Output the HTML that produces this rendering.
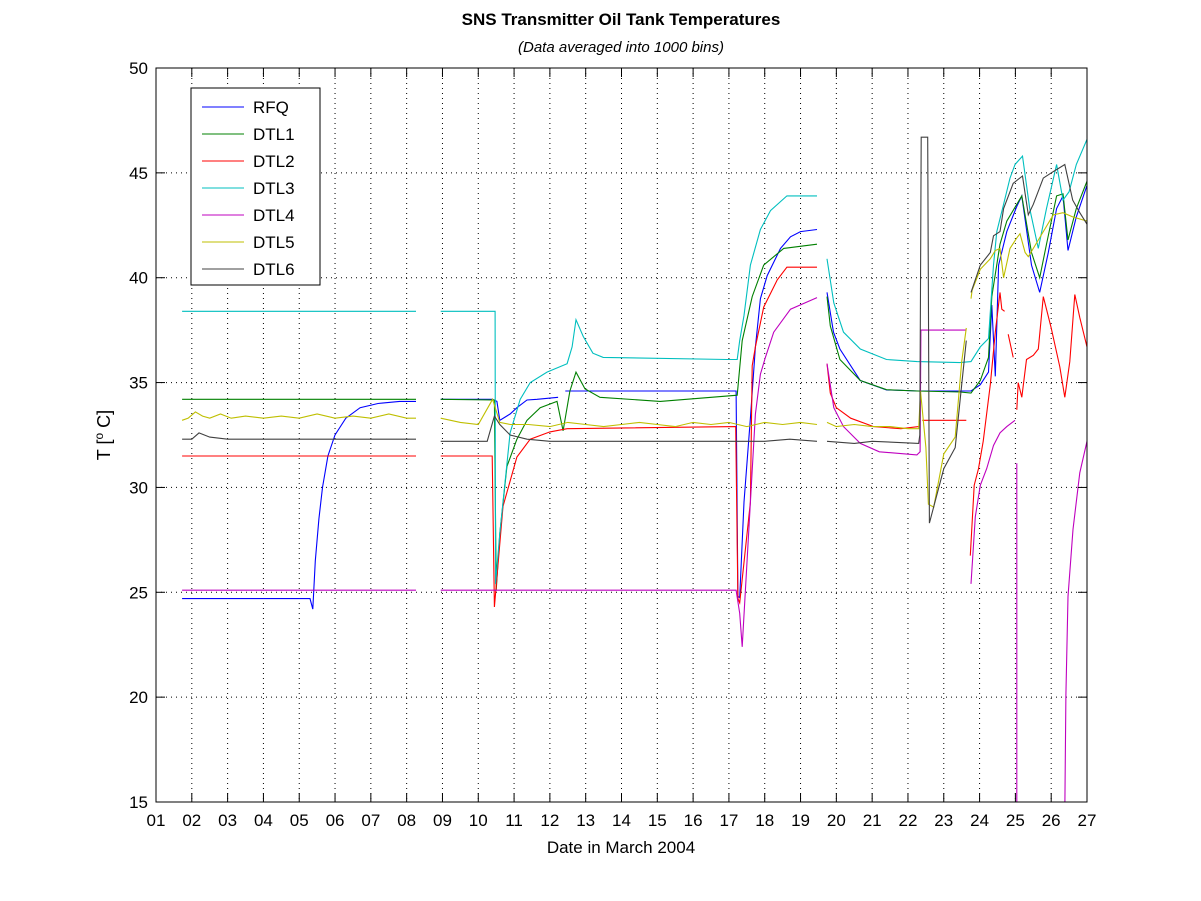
<!DOCTYPE html>
<html><head><meta charset="utf-8"><style>
body{margin:0;background:#fff;}
svg{display:block;font-family:"Liberation Sans",sans-serif;}
</style></head><body>
<svg id="chart" width="1201" height="901" viewBox="0 0 1201 901" xmlns="http://www.w3.org/2000/svg">
<defs><clipPath id="plotclip"><rect x="156" y="68" width="931" height="734"/></clipPath></defs>
<rect x="0" y="0" width="1201" height="901" fill="#fff"/>
<text x="621" y="25" text-anchor="middle" font-size="17" font-weight="bold">SNS Transmitter Oil Tank Temperatures</text>
<text x="621" y="52" text-anchor="middle" font-size="15" font-style="italic">(Data averaged into 1000 bins)</text>
<text x="621" y="853" text-anchor="middle" font-size="17">Date in March 2004</text>
<text transform="translate(110,435) rotate(-90)" text-anchor="middle" font-size="18">T [<tspan baseline-shift="super" font-size="12">o</tspan> C]</text>
<g id="grid"></g><g id="series" clip-path="url(#plotclip)"></g><g id="axes"></g><g id="legend"></g>
</svg>
<script>
const xTickLabels=["01","02","03","04","05","06","07","08","09","10","11","12","13","14","15","16","17","18","19","20","21","22","23","24","25","26","27"];
const yTickValues=[15,20,25,30,35,40,45,50];
const seriesNames=["RFQ","DTL1","DTL2","DTL3","DTL4","DTL5","DTL6"];
const seriesColors=["#0000ff","#008000","#ff0000","#00bfbf","#bf00bf","#bfbf00","#404040"];

const rfqDays=[1.73,5.3,5.38,5.45,5.55,5.65,5.8,6.0,6.3,6.7,7.2,7.8,8.26,null,8.95,10.4,10.52,10.6,10.89,11.08,11.36,11.64,12.23,null,12.43,17.2,17.25,17.3,17.42,17.6,17.74,17.88,18.07,18.44,18.72,19.0,19.46,null,19.74,19.92,20.1,20.67,21.4,22.3,23.45,23.76,24.02,24.25,24.34,24.44,24.53,24.76,25.04,25.18,25.45,25.68,25.92,26.15,26.33,26.47,26.7,27.0];
const rfqTemps=[24.7,24.7,24.2,26.5,28.5,30,31.5,32.5,33.3,33.8,34.0,34.1,34.1,null,34.2,34.2,34.1,33.2,33.5,33.8,34.17,34.2,34.3,null,34.6,34.6,24.8,24.75,29.3,33.3,36.7,39,40.1,41.4,41.95,42.2,42.3,null,39.3,37.4,36.6,35.1,34.65,34.6,34.6,34.6,34.9,35.5,38.7,35.3,40.6,42.2,43.4,43.9,40.6,39.3,41.2,43.3,43.9,41.3,42.9,44.4];

const dtl1Days=[1.73,8.26,null,8.95,10.45,10.5,10.6,10.8,11.08,11.36,11.73,12.2,12.37,12.56,12.73,12.98,13.4,15.08,17.23,17.37,17.65,17.97,18.53,19.46,null,19.74,19.83,20.1,20.67,21.4,22.25,23.45,23.76,24.02,24.25,24.34,24.57,24.76,25.04,25.18,25.45,25.68,25.87,26.15,26.33,26.47,26.7,27.0];
const dtl1Temps=[34.2,34.2,null,34.2,34.17,25.1,27.8,31.0,32.3,33.2,33.8,34.1,32.7,34.6,35.5,34.7,34.3,34.1,34.4,37.0,39.1,40.6,41.4,41.6,null,39.1,37.7,36.1,35.1,34.66,34.6,34.55,34.5,35.1,36.2,39.1,41.6,42.7,43.5,43.9,41.2,40.0,41.6,43.9,44.0,41.8,43.3,44.6];

const dtl2Days=[1.73,8.26,null,8.95,10.39,10.45,10.69,11.08,11.45,12.0,12.48,17.19,17.25,17.3,17.6,17.65,17.74,17.97,18.35,18.62,19.46,null,19.74,19.83,20.0,20.4,21.04,21.8,22.3,null,22.4,23.63,null,23.74,23.85,23.97,24.1,24.3,24.44,24.57,24.62,24.7,null,24.8,24.94,null,25.04,25.08,25.18,25.31,25.5,25.64,25.78,25.87,26.0,26.24,26.38,26.52,26.66,26.8,27.0];
const dtl2Temps=[31.5,31.5,null,31.5,31.5,24.3,29.1,31.45,32.3,32.65,32.8,32.9,24.7,24.5,29.3,35.8,36.7,38.6,39.9,40.5,40.5,null,35.9,34.5,33.8,33.3,32.9,32.8,32.9,null,33.2,33.2,null,26.75,30.1,30.9,32.2,34.9,37.4,39.3,38.5,38.4,null,37.3,36.2,null,33.7,35.0,34.3,36.1,36.3,36.6,39.1,38.5,37.6,35.75,34.3,36.0,39.2,38.1,36.7];

const dtl3Days=[1.73,8.26,null,8.95,10.47,10.48,10.6,10.89,11.17,11.45,11.92,12.48,12.62,12.73,12.93,13.2,13.49,16.95,17.23,17.3,17.42,17.6,17.88,18.16,18.62,19.46,null,19.74,19.93,20.2,20.67,21.4,22.25,23.45,23.76,24.02,24.25,24.39,24.48,24.67,24.85,24.99,25.2,25.4,25.64,25.87,26.15,26.33,26.5,26.7,27.0];
const dtl3Temps=[38.4,38.4,null,38.4,38.4,25.4,27.8,32.6,34.2,35.0,35.5,35.9,36.7,38.0,37.2,36.4,36.2,36.1,36.1,37.0,38.2,40.6,42.3,43.2,43.9,43.9,null,40.9,38.8,37.4,36.6,36.1,36.0,35.95,36.0,36.7,37.1,40.6,42.2,43.5,44.75,45.4,45.8,43.3,41.4,43.3,45.4,43.7,44.1,45.4,46.6];

const dtl4Days=[1.73,8.26,null,8.95,17.2,17.3,17.37,17.6,17.74,17.88,18.02,18.25,18.72,19.46,null,19.74,19.93,20.2,20.67,21.2,22.25,22.34,22.36,23.63,null,23.76,23.88,24.02,24.2,24.39,24.57,24.76,24.99,null,25.04,25.04,null,26.38,26.41,26.47,26.61,26.8,27.0];
const dtl4Temps=[25.1,25.1,null,25.1,25.1,24.0,22.4,29.3,33.5,35.4,36.2,37.4,38.5,39.05,null,35.9,33.8,32.9,32.1,31.7,31.55,31.7,37.5,37.5,null,25.4,28.6,30.1,30.9,32.0,32.6,32.9,33.2,null,31.15,14.5,null,14.5,20.1,24.8,28.0,30.7,32.2];

const dtl5Days=[1.73,1.9,2.1,2.3,2.5,2.8,3.1,3.5,4.0,4.5,5.0,5.5,6.0,6.5,7.0,7.5,8.0,8.26,null,8.95,9.5,10.0,10.4,10.6,10.9,11.4,12.0,12.5,13.0,13.5,14.0,14.5,15.0,15.5,16.0,16.5,17.0,17.5,18.0,18.5,19.0,19.46,null,19.74,20.0,20.5,21.0,21.5,22.0,22.3,22.35,22.5,22.57,22.72,23.0,23.32,23.5,23.63,null,23.76,23.79,24.02,24.3,24.44,24.57,24.67,24.85,25.04,25.13,25.27,25.36,25.5,25.78,26.06,26.33,26.6,27.0];
const dtl5Temps=[33.2,33.3,33.6,33.4,33.3,33.5,33.3,33.4,33.3,33.4,33.3,33.5,33.3,33.4,33.3,33.5,33.3,33.3,null,33.3,33.1,33.0,34.2,33.1,33.0,33.0,32.9,33.1,33.0,32.9,33.0,33.1,33.0,32.9,33.1,33.0,33.1,32.9,33.1,33.0,33.1,33.0,null,33.1,32.9,33.0,32.9,32.9,32.8,32.8,34.6,31.9,29.2,29.06,31.6,32.4,36.0,37.6,null,39.0,39.4,40.4,40.9,41.3,41.4,40.0,41.4,41.9,42.1,41.2,41.0,41.4,42.2,43.0,43.1,42.9,42.7];

const dtl6Days=[1.73,2.0,2.2,2.5,3.0,4.0,5.0,6.0,7.0,8.26,null,8.95,10.25,10.45,10.6,10.89,11.36,12.0,13.0,15.0,17.0,18.0,18.7,19.46,null,19.74,20.5,21.0,22.3,22.33,22.37,22.55,22.6,23.0,23.32,23.5,23.63,null,23.76,24.02,24.3,24.39,24.57,24.67,24.94,25.2,25.36,25.5,25.78,26.06,26.38,26.6,26.8,27.0];
const dtl6Temps=[32.3,32.3,32.6,32.4,32.3,32.3,32.3,32.3,32.3,32.3,null,32.2,32.2,33.4,33.0,32.5,32.3,32.2,32.2,32.2,32.2,32.2,32.3,32.2,null,32.2,32.1,32.2,32.1,32.5,46.7,46.7,28.3,30.9,31.9,34.9,37.0,null,39.3,40.6,41.2,42.0,42.2,43.3,44.5,44.85,43.0,43.5,44.75,45.06,45.4,43.7,43.1,42.55];

const seriesDays=[rfqDays,dtl1Days,dtl2Days,dtl3Days,dtl4Days,dtl5Days,dtl6Days];
const seriesTemps=[rfqTemps,dtl1Temps,dtl2Temps,dtl3Temps,dtl4Temps,dtl5Temps,dtl6Temps];

const L=156,R=1087,T=68,B=802,NS="http://www.w3.org/2000/svg";
const xMin=1,xMax=27,yMin=15,yMax=50;
function xs(d){return L+(d-xMin)/(xMax-xMin)*(R-L);}
function ys(v){return B-(v-yMin)/(yMax-yMin)*(B-T);}
function mk(tag,attrs,parent){const e=document.createElementNS(NS,tag);for(const k in attrs)e.setAttribute(k,attrs[k]);parent.appendChild(e);return e;}

const grid=document.getElementById('grid'),axes=document.getElementById('axes');
xTickLabels.forEach((lab,i)=>{
  const x=xs(i+1);
  if(i>0&&i<xTickLabels.length-1){const g=mk('line',{x1:x,x2:x,y1:T,y2:B,stroke:'#000','stroke-width':1,'stroke-dasharray':'1,4'},grid);
  
  }
  mk('line',{x1:x,x2:x,y1:B,y2:B-9,stroke:'#000'},axes);
  mk('line',{x1:x,x2:x,y1:T,y2:T+9,stroke:'#000'},axes);
  const t=mk('text',{x:x,y:B+24,'text-anchor':'middle','font-size':17},axes);t.textContent=lab;
  
  
});
yTickValues.forEach(v=>{
  const y=ys(v);
  if(v>yMin&&v<yMax){const g=mk('line',{x1:L,x2:R,y1:y,y2:y,stroke:'#000','stroke-width':1,'stroke-dasharray':'1,4'},grid);
  
  }
  mk('line',{x1:L,x2:L+9,y1:y,y2:y,stroke:'#000'},axes);
  mk('line',{x1:R,x2:R-9,y1:y,y2:y,stroke:'#000'},axes);
  const t=mk('text',{x:L-8,y:y+6,'text-anchor':'end','font-size':17},axes);t.textContent=v;
  
  
});
const frame=mk('rect',{x:L,y:T,width:R-L,height:B-T,fill:'none',stroke:'#000','stroke-width':1},axes);



const sg=document.getElementById('series');
seriesNames.forEach((name,i)=>{
  const d=seriesDays[i],v=seriesTemps[i];let path='',pen=false;
  for(let k=0;k<d.length;k++){
    if(d[k]===null||v[k]===null){pen=false;continue;}
    path+=(pen?'L':'M')+xs(d[k]).toFixed(1)+','+ys(Math.max(v[k],yMin-1)).toFixed(1);pen=true;
  }
  const p=mk('path',{d:path,fill:'none',stroke:seriesColors[i],'stroke-width':1.1},sg);
  
  
});

const lg=document.getElementById('legend');
const box=mk('rect',{x:191,y:88,width:129,height:197,fill:'#fff',stroke:'#000'},lg);


seriesNames.forEach((name,i)=>{
  const y=107+i*27;
  const ln=mk('line',{x1:202,x2:244,y1:y,y2:y,stroke:seriesColors[i],'stroke-width':1.1},lg);
  
  
  const t=mk('text',{x:253,y:y+6,'font-size':17},lg);t.textContent=name;
  
  
});
</script>
</body></html>
